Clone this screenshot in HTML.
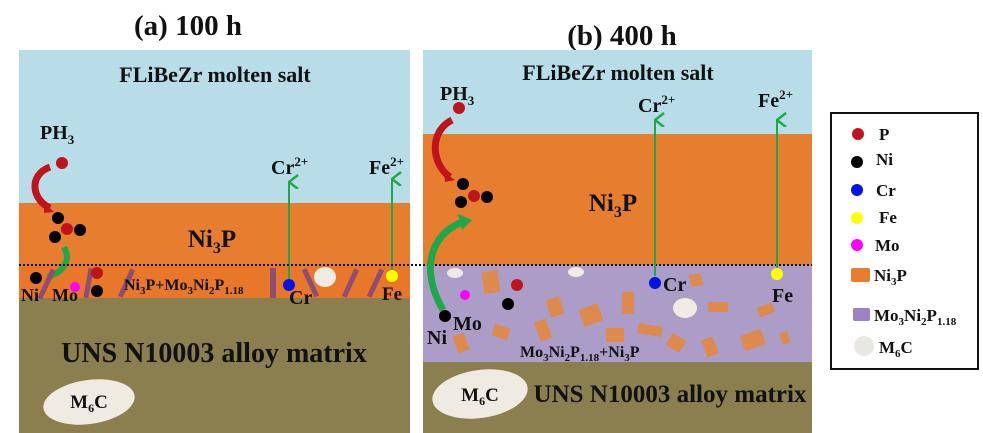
<!DOCTYPE html>
<html><head><style>body{margin:0;background:#fff}svg{display:block}text{font-family:"Liberation Serif",serif;font-weight:bold;fill:#111}</style></head>
<body>
<svg width="983" height="433" viewBox="0 0 983 433" xmlns="http://www.w3.org/2000/svg">
<defs><marker id="ga" markerWidth="16" markerHeight="12" refX="7" refY="1" orient="auto" markerUnits="userSpaceOnUse"><path d="M0,10 L7,1 L14,10" fill="none" stroke="#1fa84a" stroke-width="2.5"/></marker></defs>
<text x="188" y="35" font-size="29" text-anchor="middle">(a) 100 h</text>
<text x="622" y="45" font-size="29" text-anchor="middle">(b) 400 h</text>
<!-- Panel A -->
<rect x="19" y="50" width="391" height="153" fill="#b9dde8"/>
<rect x="19" y="203" width="391" height="62" fill="#e77e2f"/>
<rect x="19" y="265" width="391" height="34" fill="#e8772a"/>
<rect x="19" y="298" width="391" height="135" fill="#8b7f4f"/>
<text x="215" y="82" font-size="22" text-anchor="middle">FLiBeZr molten salt</text>
<text x="40" y="139" font-size="20">PH<tspan font-size="13" dy="5">3</tspan></text>
<circle cx="62" cy="163" r="6" fill="#c0141c"/>
<path d="M50,167 C28,175 32,200 50,208" fill="none" stroke="#c0141c" stroke-width="7"/>
<path d="M44,203 L54,212 L44,213Z" fill="#c0141c"/>
<circle cx="58" cy="218" r="6" fill="#000"/><circle cx="67" cy="229" r="6" fill="#c0141c"/><circle cx="80" cy="230" r="6" fill="#000"/><circle cx="55" cy="237" r="6" fill="#000"/>
<path d="M64,247 C72,262 62,272 48,277" fill="none" stroke="#1fa84a" stroke-width="6"/>
<text x="212" y="247" font-size="25" text-anchor="middle">Ni<tspan font-size="16" dy="6">3</tspan><tspan dy="-6">P</tspan></text>
<g fill="#8e4d74">
<rect x="44" y="268" width="5" height="32" transform="rotate(25 46 284)"/>
<rect x="86" y="268" width="5" height="30" transform="rotate(10 88 283)"/>
<rect x="124" y="268" width="5" height="30" transform="rotate(25 126 283)"/>
<rect x="270" y="268" width="6" height="30"/>
<rect x="308" y="268" width="5" height="30" transform="rotate(-25 310 283)"/>
<rect x="348" y="268" width="5" height="30" transform="rotate(25 350 283)"/>
<rect x="373" y="268" width="5" height="30" transform="rotate(25 375 283)"/>
</g>
<text x="124" y="290" font-size="16">Ni<tspan font-size="11" dy="4">3</tspan><tspan dy="-4">P+Mo</tspan><tspan font-size="11" dy="4">3</tspan><tspan dy="-4">Ni</tspan><tspan font-size="11" dy="4">2</tspan><tspan dy="-4">P</tspan><tspan font-size="11" dy="4">1.18</tspan></text>
<circle cx="36" cy="278" r="6" fill="#000"/><circle cx="97" cy="273" r="6" fill="#c0141c"/><circle cx="97" cy="291" r="6" fill="#000"/><circle cx="75" cy="287" r="5" fill="#ff00ff"/>
<text x="21" y="301" font-size="18">Ni</text><text x="52" y="301" font-size="18">Mo</text>
<ellipse cx="325" cy="277" rx="11" ry="10" fill="#efebe3"/>
<circle cx="289" cy="285" r="6" fill="#0014e8"/><circle cx="392" cy="276" r="6" fill="#ffff00"/>
<text x="289" y="304" font-size="20">Cr</text><text x="382" y="300" font-size="19">Fe</text>
<line x1="289" y1="279" x2="289" y2="182" stroke="#1fa84a" stroke-width="2" marker-end="url(#ga)"/>
<line x1="392" y1="270" x2="392" y2="179" stroke="#1fa84a" stroke-width="2" marker-end="url(#ga)"/>
<text x="271" y="174" font-size="20">Cr<tspan font-size="13" dy="-8">2+</tspan></text>
<text x="369" y="174" font-size="20">Fe<tspan font-size="13" dy="-8">2+</tspan></text>
<text x="214" y="362" font-size="28" text-anchor="middle">UNS N10003 alloy matrix</text>
<ellipse cx="89" cy="402" rx="46" ry="22" fill="#efebe3" transform="rotate(-8 89 402)"/>
<text x="89" y="408" font-size="19" font-weight="normal" text-anchor="middle">M<tspan font-size="12" dy="4">6</tspan><tspan dy="-4">C</tspan></text>
<!-- Panel B -->
<rect x="423" y="50" width="389" height="85" fill="#b9dde8"/>
<rect x="423" y="134" width="389" height="131" fill="#e77e2f"/>
<rect x="423" y="265" width="389" height="97" fill="#ab9dc8"/>
<rect x="423" y="362" width="389" height="71" fill="#8b7f4f"/>
<line x1="19" y1="265" x2="812" y2="265" stroke="#111" stroke-width="2" stroke-dasharray="2,2"/>
<text x="618" y="80" font-size="22" text-anchor="middle">FLiBeZr molten salt</text>
<text x="440" y="100" font-size="20">PH<tspan font-size="13" dy="5">3</tspan></text>
<circle cx="459" cy="108" r="6" fill="#c0141c"/>
<path d="M452,120 C428,132 432,165 450,177" fill="none" stroke="#c0141c" stroke-width="7"/>
<path d="M444,172 L455,180 L445,182Z" fill="#c0141c"/>
<circle cx="463" cy="184" r="6" fill="#000"/><circle cx="474" cy="196" r="6" fill="#c0141c"/><circle cx="487" cy="197" r="6" fill="#000"/><circle cx="461" cy="202" r="6" fill="#000"/>
<path d="M443,310 C420,270 430,235 462,222" fill="none" stroke="#1fa84a" stroke-width="7"/>
<path d="M458,214 L472,220 L462,230Z" fill="#1fa84a"/>
<text x="613" y="211" font-size="25" text-anchor="middle">Ni<tspan font-size="16" dy="6">3</tspan><tspan dy="-6">P</tspan></text>
<line x1="655" y1="276" x2="655" y2="120" stroke="#1fa84a" stroke-width="2" marker-end="url(#ga)"/>
<line x1="777" y1="268" x2="777" y2="120" stroke="#1fa84a" stroke-width="2" marker-end="url(#ga)"/>
<text x="638" y="112" font-size="20">Cr<tspan font-size="13" dy="-8">2+</tspan></text>
<text x="758" y="107" font-size="20">Fe<tspan font-size="13" dy="-8">2+</tspan></text>
<g fill="#de8a4c">
<rect x="483" y="271" width="16" height="22" transform="rotate(-8 491 282)"/>
<rect x="548" y="298" width="14" height="18" transform="rotate(-20 555 307)"/>
<rect x="581" y="306" width="20" height="18" transform="rotate(-20 591 315)"/>
<rect x="622" y="292" width="12" height="22"/>
<rect x="690" y="274" width="12" height="12" transform="rotate(-15 696 280)"/>
<rect x="708" y="302" width="20" height="10"/>
<rect x="758" y="305" width="16" height="10" transform="rotate(-20 766 310)"/>
<rect x="493" y="326" width="16" height="12" transform="rotate(20 501 332)"/>
<rect x="537" y="320" width="12" height="20" transform="rotate(-20 543 330)"/>
<rect x="606" y="328" width="18" height="14"/>
<rect x="638" y="325" width="24" height="10" transform="rotate(10 650 330)"/>
<rect x="668" y="336" width="16" height="14" transform="rotate(30 676 343)"/>
<rect x="704" y="338" width="12" height="18" transform="rotate(-20 710 347)"/>
<rect x="742" y="332" width="22" height="16" transform="rotate(-20 753 340)"/>
<rect x="781" y="332" width="8" height="12" transform="rotate(-20 785 338)"/>
<rect x="455" y="334" width="12" height="18" transform="rotate(-20 461 343)"/>
</g>
<ellipse cx="455" cy="273" rx="8" ry="5" fill="#efebe3"/><ellipse cx="576" cy="272" rx="8" ry="5" fill="#efebe3"/><ellipse cx="685" cy="308" rx="12" ry="10" fill="#efebe3"/>
<circle cx="517" cy="285" r="6" fill="#c0141c"/><circle cx="508" cy="304" r="6" fill="#000"/><circle cx="465" cy="295" r="5" fill="#ff00ff"/><circle cx="445" cy="316" r="6" fill="#000"/>
<circle cx="655" cy="283" r="6" fill="#0014e8"/><circle cx="777" cy="274" r="6" fill="#ffff00"/>
<text x="663" y="291" font-size="20">Cr</text><text x="772" y="302" font-size="20">Fe</text>
<text x="427" y="344" font-size="20">Ni</text><text x="453" y="330" font-size="20">Mo</text>
<text x="520" y="357" font-size="16">Mo<tspan font-size="11" dy="4">3</tspan><tspan dy="-4">Ni</tspan><tspan font-size="11" dy="4">2</tspan><tspan dy="-4">P</tspan><tspan font-size="11" dy="4">1.18</tspan><tspan dy="-4">+Ni</tspan><tspan font-size="11" dy="4">3</tspan><tspan dy="-4">P</tspan></text>
<ellipse cx="480" cy="394" rx="48" ry="24" fill="#efebe3" transform="rotate(-8 480 394)"/>
<text x="480" y="401" font-size="19" font-weight="normal" text-anchor="middle">M<tspan font-size="12" dy="4">6</tspan><tspan dy="-4">C</tspan></text>
<text x="670" y="402" font-size="25" text-anchor="middle">UNS N10003 alloy matrix</text>
<!-- Legend -->
<rect x="831" y="113" width="147" height="256" fill="#fff" stroke="#111" stroke-width="2"/>
<circle cx="858" cy="134" r="6" fill="#c0141c"/><text x="879" y="140" font-size="17">P</text>
<circle cx="857" cy="162" r="6" fill="#000"/><text x="876" y="165" font-size="17">Ni</text>
<circle cx="857" cy="190" r="6" fill="#0014e8"/><text x="876" y="196" font-size="17">Cr</text>
<circle cx="857" cy="218" r="6" fill="#ffff00"/><text x="879" y="223" font-size="17">Fe</text>
<circle cx="857" cy="245" r="6" fill="#ff00ff"/><text x="875" y="251" font-size="17">Mo</text>
<rect x="851" y="268" width="19" height="14" rx="2" fill="#e77e2f"/><text x="874" y="281" font-size="17">Ni<tspan font-size="11" dy="4">3</tspan><tspan dy="-4">P</tspan></text>
<rect x="853" y="308" width="17" height="13" rx="2" fill="#9d82c4"/><text x="874" y="321" font-size="17">Mo<tspan font-size="11" dy="4">3</tspan><tspan dy="-4">Ni</tspan><tspan font-size="11" dy="4">2</tspan><tspan dy="-4">P</tspan><tspan font-size="11" dy="4">1.18</tspan></text>
<circle cx="864" cy="346" r="10" fill="#e9e7e1"/><text x="879" y="353" font-size="17">M<tspan font-size="11" dy="4">6</tspan><tspan dy="-4">C</tspan></text>
</svg>
</body></html>
